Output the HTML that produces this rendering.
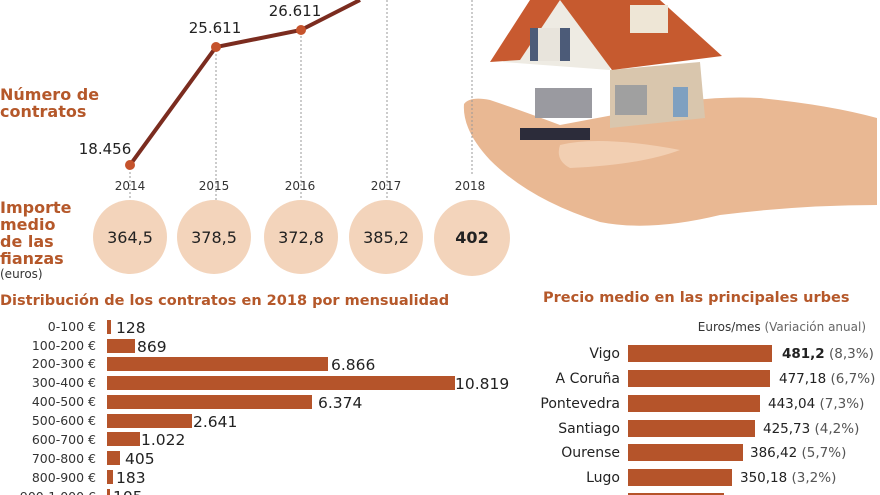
<!DOCTYPE html>
<html><head><meta charset="utf-8"><style>
body{margin:0;width:880px;height:495px;overflow:hidden;background:#fff;font-family:"DejaVu Sans","Liberation Sans",sans-serif;}
svg{position:absolute;left:0;top:0}
</style></head><body>
<svg width="880" height="495" viewBox="0 0 880 495" xmlns="http://www.w3.org/2000/svg">
<path d="M464 104 Q470 96 490 100 Q520 110 560 125 L640 110 Q700 95 760 98 Q830 105 877 118 L877 205 Q800 205 720 215 Q650 232 600 222 Q530 200 490 160 Q462 130 464 104Z" fill="#e9b893"/>
<path d="M560 145 Q600 135 680 150 Q640 165 570 168 Q555 160 560 145Z" fill="#f2cfb2"/>
<polygon points="503,62 540,0 610,0 610,70" fill="#eeebe3"/>
<polygon points="610,70 700,62 705,118 610,128" fill="#d9c6ad"/>
<polygon points="490,62 530,0 560,0 520,60" fill="#c85a30"/>
<polygon points="560,0 660,0 722,56 612,70" fill="#c65a2f"/>
<rect x="530" y="28" width="40" height="33" fill="#4c5b78"/>
<rect x="538" y="28" width="22" height="33" fill="#e8e4dc"/>
<rect x="535" y="88" width="57" height="30" fill="#9a9aa0"/>
<rect x="615" y="85" width="32" height="30" fill="#a0a0a0"/>
<rect x="673" y="87" width="15" height="30" fill="#7fa0c0"/>
<rect x="630" y="5" width="38" height="28" fill="#eee6d6"/>
<rect x="520" y="128" width="70" height="12" fill="#2c2c3a"/>
<g stroke="#999" stroke-width="1" stroke-dasharray="2,2">
<line x1="130" y1="172" x2="130" y2="200"/>
<line x1="216" y1="50" x2="216" y2="200"/>
<line x1="301" y1="32" x2="301" y2="200"/>
<line x1="387" y1="0" x2="387" y2="200"/>
<line x1="472" y1="0" x2="472" y2="175"/>
</g>
<polyline points="130,165 216,47 301,30 360,0" fill="none" stroke="#7b2c1f" stroke-width="4"/>
<g fill="#c5532c"><circle cx="130" cy="165" r="5"/><circle cx="216" cy="47" r="5"/><circle cx="301" cy="30" r="5"/></g>
<g font-size="15" fill="#222" text-anchor="middle">
<text x="105" y="154">18.456</text><text x="215" y="33">25.611</text><text x="295" y="16">26.611</text>
</g>
<g font-size="12" fill="#333" text-anchor="middle">
<text x="130" y="190">2014</text><text x="214" y="190">2015</text><text x="300" y="190">2016</text><text x="386" y="190">2017</text><text x="470" y="190">2018</text>
</g>
<g fill="#f3d4bb">
<circle cx="130" cy="237" r="37"/><circle cx="214" cy="237" r="37"/><circle cx="301" cy="237" r="37"/><circle cx="386" cy="237" r="37"/><circle cx="472" cy="238" r="38"/>
</g>
<g font-size="16" fill="#222" text-anchor="middle">
<text x="130" y="243">364,5</text><text x="214" y="243">378,5</text><text x="301" y="243">372,8</text><text x="386" y="243">385,2</text><text x="472" y="243" font-weight="bold">402</text>
</g>
<g font-weight="bold" fill="#b5582a" font-size="16">
<text x="0" y="100">Número de</text><text x="0" y="117">contratos</text>
<text x="0" y="213">Importe</text><text x="0" y="230">medio</text><text x="0" y="247">de las</text><text x="0" y="264">fianzas</text>
<text x="0" y="305" font-size="14.5">Distribución de los contratos en 2018 por mensualidad</text>
<text x="543" y="302" font-size="14.5">Precio medio en las principales urbes</text>
</g>
<text x="0" y="278" font-size="12" fill="#333">(euros)</text>
<g font-size="12.5" fill="#333" text-anchor="end">
<text x="96" y="331">0-100 €</text><text x="96" y="350">100-200 €</text><text x="96" y="368">200-300 €</text><text x="96" y="387">300-400 €</text><text x="96" y="406">400-500 €</text><text x="96" y="425">500-600 €</text><text x="96" y="444">600-700 €</text><text x="96" y="463">700-800 €</text><text x="96" y="482">800-900 €</text><text x="96" y="501">900-1.000 €</text>
</g>
<g fill="#b5542a">
<rect x="107" y="320" width="4" height="14"/><rect x="107" y="339" width="28" height="14"/><rect x="107" y="357" width="221" height="14"/><rect x="107" y="376" width="348" height="14"/><rect x="107" y="395" width="205" height="14"/><rect x="107" y="414" width="85" height="14"/><rect x="107" y="432" width="33" height="14"/><rect x="107" y="451" width="13" height="14"/><rect x="107" y="470" width="6" height="14"/><rect x="107" y="489" width="3" height="14"/>
</g>
<g font-size="15.5" fill="#222">
<text x="116" y="333">128</text><text x="137" y="352">869</text><text x="331" y="370">6.866</text><text x="455" y="389">10.819</text><text x="318" y="408">6.374</text><text x="193" y="427">2.641</text><text x="141" y="445">1.022</text><text x="125" y="464">405</text><text x="116" y="483">183</text><text x="113" y="502">105</text>
</g>
<text x="866" y="331" font-size="12" fill="#333" text-anchor="end">Euros/mes <tspan fill="#666">(Variación anual)</tspan></text>
<g font-size="14" fill="#222" text-anchor="end">
<text x="620" y="358">Vigo</text><text x="620" y="383">A Coruña</text><text x="620" y="408">Pontevedra</text><text x="620" y="433">Santiago</text><text x="620" y="457">Ourense</text><text x="620" y="482">Lugo</text>
</g>
<g fill="#b5542a">
<rect x="628" y="345" width="144" height="17"/><rect x="628" y="370" width="142" height="17"/><rect x="628" y="395" width="132" height="17"/><rect x="628" y="420" width="127" height="17"/><rect x="628" y="444" width="115" height="17"/><rect x="628" y="469" width="104" height="17"/><rect x="628" y="493" width="96" height="17"/>
</g>
<g font-size="13.5" fill="#222">
<text x="782" y="358"><tspan font-weight="bold">481,2</tspan> <tspan fill="#555">(8,3%)</tspan></text>
<text x="779" y="383">477,18 <tspan fill="#555">(6,7%)</tspan></text>
<text x="768" y="408">443,04 <tspan fill="#555">(7,3%)</tspan></text>
<text x="763" y="433">425,73 <tspan fill="#555">(4,2%)</tspan></text>
<text x="750" y="457">386,42 <tspan fill="#555">(5,7%)</tspan></text>
<text x="740" y="482">350,18 <tspan fill="#555">(3,2%)</tspan></text>
</g>
</svg>
</body></html>
